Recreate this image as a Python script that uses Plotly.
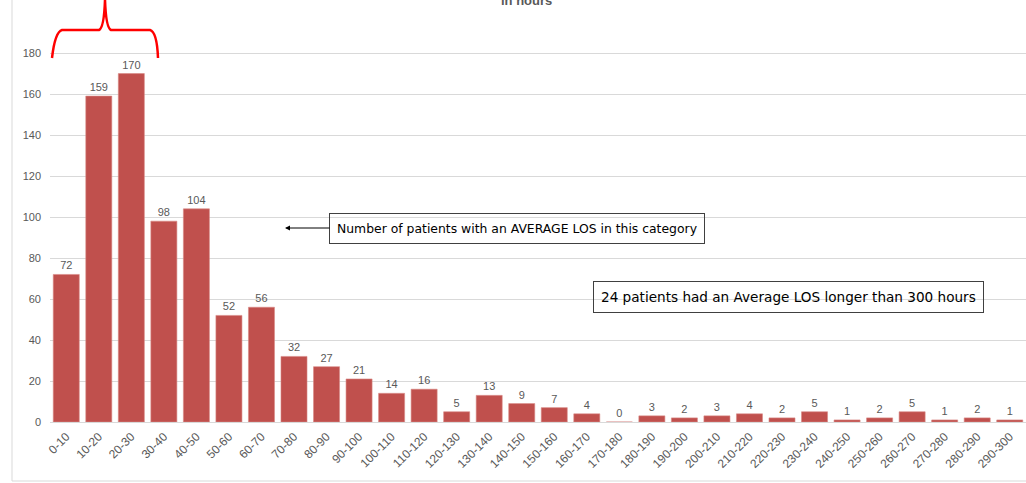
import plotly.graph_objects as go

categories = ["0-10", "10-20", "20-30", "30-40", "40-50", "50-60", "60-70", "70-80", "80-90", "90-100",
              "100-110", "110-120", "120-130", "130-140", "140-150", "150-160", "160-170", "170-180",
              "180-190", "190-200", "200-210", "210-220", "220-230", "230-240", "240-250", "250-260",
              "260-270", "270-280", "280-290", "290-300"]
patients = [72, 159, 170, 98, 104, 52, 56, 32, 27, 21, 14, 16, 5, 13, 9, 7, 4, 0,
            3, 2, 3, 4, 2, 5, 1, 2, 5, 1, 2, 1]
y_ticks = list(range(0, 181, 20))

idx = list(range(len(categories)))

W, H = 1026, 483
ML, MR, MT, MB = 50, 0, 0, 61
pw = W - ML - MR
ph = H - MT - MB
YMAX = 205.9

fig = go.Figure()
fig.add_trace(go.Bar(
    x=idx, y=patients,
    marker=dict(color="#c0504d", line=dict(color="#d98885", width=0.6)),
    text=[str(v) for v in patients], textposition="outside",
    textfont=dict(family="Liberation Sans, Arial", size=11, color="#595959"),
    cliponaxis=False,
))

def px_to_data(px, py):
    c = -0.5 + (px - ML) / pw * 30
    v = (MT + ph - py) / ph * YMAX
    return c, v

# red brace over first three bars
pts = [(52, 58), (55, 32), (62, 30), (99, 30), (104, 28), (105, 0), (106, 28), (111, 30),
       (150, 30), (157, 32), (158, 58)]
d = [px_to_data(*p) for p in pts]
path = (f"M {d[0][0]},{d[0][1]} Q {d[1][0]},{d[1][1]} {d[2][0]},{d[2][1]} "
        f"L {d[3][0]},{d[3][1]} Q {d[4][0]},{d[4][1]} {d[5][0]},{d[5][1]} "
        f"Q {d[6][0]},{d[6][1]} {d[7][0]},{d[7][1]} L {d[8][0]},{d[8][1]} "
        f"Q {d[9][0]},{d[9][1]} {d[10][0]},{d[10][1]}")
fig.add_shape(type="path", path=path, xref="x", yref="y",
              line=dict(color="#ff0000", width=2.5))

# frame lines (left and bottom)
fig.add_shape(type="line", xref="paper", yref="paper",
              x0=(12 - ML) / pw, x1=(12 - ML) / pw, y0=(MT + ph - 481) / ph, y1=1.2,
              line=dict(color="#d9d9d9", width=1))
fig.add_shape(type="line", xref="paper", yref="paper",
              x0=(12 - ML) / pw, x1=1.0, y0=(MT + ph - 481) / ph, y1=(MT + ph - 481) / ph,
              line=dict(color="#d9d9d9", width=1))

ax1, ay1 = px_to_data(285, 228)
fig.add_annotation(x=ax1, y=ay1, xref="x", yref="y",
                   text="Number of patients with an AVERAGE LOS in this category",
                   showarrow=True, arrowhead=2, arrowsize=1, arrowwidth=1, arrowcolor="#000000",
                   ax=517 - 285, ay=0,
                   font=dict(family="DejaVu Sans, Verdana", size=12.4, color="#000000"),
                   bordercolor="#404040", borderwidth=1, borderpad=7)
bx, by = px_to_data(788, 297)
fig.add_annotation(x=bx, y=by, xref="x", yref="y",
                   text="24 patients had an Average LOS longer than 300 hours",
                   showarrow=False,
                   font=dict(family="DejaVu Sans, Verdana", size=13.6, color="#000000"),
                   bordercolor="#404040", borderwidth=1, borderpad=7)

fig.add_annotation(x=(526 - ML) / pw, y=(MT + ph - 10) / ph, xref="paper", yref="paper",
                   text="<b>in hours</b>", showarrow=False, yanchor="bottom",
                   font=dict(family="Liberation Sans, Arial", size=13, color="#595959"))

fig.update_layout(
    width=W, height=H,
    margin=dict(l=ML, r=MR, t=MT, b=MB, autoexpand=False),
    paper_bgcolor="white", plot_bgcolor="white",
    showlegend=False, bargap=0.2,
    xaxis=dict(range=[-0.5, 29.5], tickmode="array", tickvals=idx, ticktext=categories,
               tickangle=-45, showgrid=False, zeroline=False, showline=True, automargin=False,
               linecolor="#d9d9d9", linewidth=1, ticks="", ticklabelstandoff=2,
               tickfont=dict(family="Liberation Sans, Arial", size=12, color="#595959")),
    yaxis=dict(range=[0, YMAX], tickmode="array", tickvals=y_ticks, automargin=False,
               showgrid=True, gridcolor="#d9d9d9", gridwidth=1, zeroline=False,
               showline=False, ticks="", ticklabelstandoff=8,
               tickfont=dict(family="Liberation Sans, Arial", size=11, color="#595959")),
)

fig.write_html("out.html", config={"displayModeBar": False},
               post_script="document.body.style.margin='0';document.body.style.overflow='hidden';")
